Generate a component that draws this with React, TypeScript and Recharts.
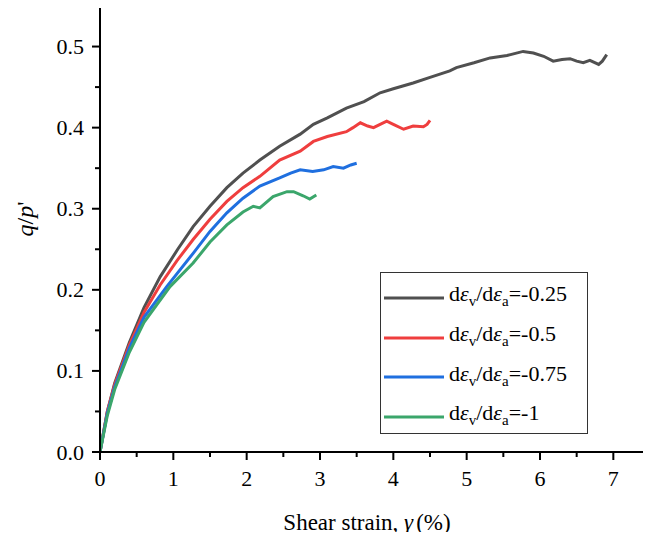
import React from "react";
import { LineChart, Line, XAxis, YAxis, Legend } from "recharts";

// Shear strain (%) and stress ratio q/p' for each test
const strainA = [0, 0.1, 0.2, 0.4, 0.6, 0.82, 1.06, 1.27, 1.5, 1.73, 1.95, 2.18, 2.45, 2.73, 2.91, 3.1, 3.36, 3.6, 3.82, 4.0, 4.27, 4.5, 4.77, 4.86, 5.1, 5.32, 5.55, 5.77, 5.91, 6.05, 6.18, 6.3, 6.41, 6.5, 6.59, 6.68, 6.8, 6.85, 6.91];
const ratioA = [0, 0.05, 0.085, 0.135, 0.178, 0.216, 0.25, 0.278, 0.303, 0.326, 0.344, 0.36, 0.377, 0.392, 0.404, 0.412, 0.424, 0.432, 0.443, 0.448, 0.455, 0.462, 0.47, 0.474, 0.48, 0.486, 0.489, 0.494, 0.492, 0.488, 0.482, 0.484, 0.485, 0.482, 0.48, 0.483, 0.478, 0.482, 0.49];

const strainB = [0, 0.1, 0.2, 0.4, 0.6, 0.82, 1.05, 1.27, 1.5, 1.73, 1.95, 2.18, 2.45, 2.73, 2.91, 3.1, 3.36, 3.45, 3.55, 3.65, 3.73, 3.82, 3.91, 4.0, 4.14, 4.27, 4.41, 4.46, 4.5];
const ratioB = [0, 0.05, 0.083, 0.132, 0.172, 0.206, 0.236, 0.262, 0.287, 0.309, 0.326, 0.34, 0.36, 0.371, 0.383, 0.389, 0.395, 0.4, 0.406, 0.402, 0.4, 0.404, 0.408, 0.404, 0.398, 0.402, 0.401, 0.404, 0.409];

const strainC = [0, 0.1, 0.2, 0.4, 0.6, 0.91, 1.27, 1.5, 1.73, 1.95, 2.18, 2.45, 2.6, 2.73, 2.9, 3.05, 3.18, 3.32, 3.42, 3.5];
const ratioC = [0, 0.048, 0.08, 0.128, 0.166, 0.204, 0.245, 0.272, 0.295, 0.313, 0.328, 0.338, 0.344, 0.348, 0.346, 0.348, 0.352, 0.35, 0.354, 0.356];

const strainD = [0, 0.1, 0.2, 0.4, 0.6, 0.955, 1.27, 1.5, 1.73, 1.95, 2.09, 2.18, 2.36, 2.55, 2.64, 2.77, 2.86, 2.95];
const ratioD = [0, 0.045, 0.077, 0.123, 0.16, 0.204, 0.233, 0.259, 0.28, 0.296, 0.303, 0.301, 0.315, 0.321, 0.321, 0.316, 0.312, 0.317];

const seriesLabels = ["-0.25", "-0.5", "-0.75", "-1"];
const seriesColors = ["#505050", "#ef3e3e", "#1f6fdf", "#3ba66b"];

const xTicks = [0, 0.5, 1, 1.5, 2, 2.5, 3, 3.5, 4, 4.5, 5, 5.5, 6, 6.5, 7, 7.5];
const yTicks = [0, 0.05, 0.1, 0.15, 0.2, 0.25, 0.3, 0.35, 0.4, 0.45, 0.5, 0.55];

const toPoints = (xs: number[], ys: number[]) => xs.map((x, i) => ({ x, y: ys[i] }));
const seriesData = [
  toPoints(strainA, ratioA),
  toPoints(strainB, ratioB),
  toPoints(strainC, ratioC),
  toPoints(strainD, ratioD),
];

const FONT = "Liberation Serif, Times New Roman, Times, DejaVu Serif, serif";

const isMajor = (v: number, step: number) => Math.abs(v / step - Math.round(v / step)) < 1e-6;

const XTick = (props: any) => {
  const { x, y, payload } = props;
  const v = payload.value as number;
  const major = isMajor(v, 1);
  const top = y - 8;
  return (
    <g>
      <line x1={x} x2={x} y1={top} y2={top + (major ? 8 : 5)} stroke="#000" strokeWidth={2} />
      {major && v < 7.5 ? (
        <text x={x} y={top + 34} textAnchor="middle" style={{ fontFamily: FONT }} fontSize={22} fill="#000">
          {String(v)}
        </text>
      ) : null}
    </g>
  );
};

const YTick = (props: any) => {
  const { x, y, payload } = props;
  const v = payload.value as number;
  const major = isMajor(v, 0.1);
  const right = x + 8;
  return (
    <g>
      <line x1={right} x2={right - (major ? 8 : 5)} y1={y} y2={y} stroke="#000" strokeWidth={2} />
      {major ? (
        <text x={right - 16} y={y + 7.5} textAnchor="end" style={{ fontFamily: FONT }} fontSize={22} fill="#000">
          {v.toFixed(1)}
        </text>
      ) : null}
    </g>
  );
};

const LegendBox = () => (
  <div
    style={{
      width: 208,
      height: 162,
      boxSizing: "border-box",
      border: "1.5px solid #333",
      background: "#fff",
      fontFamily: FONT,
      fontSize: 22,
      color: "#000",
      paddingTop: 5,
    }}
  >
    {seriesLabels.map((lab, i) => (
      <div key={lab} style={{ display: "flex", alignItems: "center", height: 39.7, whiteSpace: "nowrap" }}>
        <svg width={62} height={10} style={{ marginLeft: 2, marginRight: 4, flex: "none" }}>
          <line x1={1} x2={61} y1={5} y2={5} stroke={seriesColors[i]} strokeWidth={3} />
        </svg>
        <span style={{ lineHeight: "22px" }}>
          d<i>ε</i>
          <sub style={{ fontSize: 15, verticalAlign: "-5px" }}>v</sub>/d<i>ε</i>
          <sub style={{ fontSize: 15, verticalAlign: "-5px" }}>a</sub>={lab}
        </span>
      </div>
    ))}
  </div>
);

const XLabel = (props: any) => {
  const vb = props.viewBox || {};
  const cx = vb.x + vb.width / 2 - 8;
  return (
    <text x={cx} y={vb.y + 78} textAnchor="middle" style={{ fontFamily: FONT }} fontSize={23} fill="#000">
      Shear strain, <tspan fontStyle="italic">γ</tspan>
      <tspan dx={3}>(%)</tspan>
    </text>
  );
};

const YLabel = () => (
  <text
    x={0}
    y={0}
    transform="translate(33, 219) rotate(-90)"
    textAnchor="middle"
    style={{ fontFamily: FONT }}
    fontSize={24}
    fill="#000"
  >
    <tspan fontStyle="italic">q</tspan>/<tspan fontStyle="italic">p</tspan>'
  </text>
);

export default function App() {
  return (
    <div style={{ margin: -8, width: 651, height: 540, background: "#fff", position: "relative", fontFamily: FONT }}>
      <LineChart width={651} height={540} margin={{ top: 6, right: 1, bottom: 0, left: 0 }} style={{ fontFamily: FONT }}>
        <XAxis
          type="number"
          dataKey="x"
          domain={[0, 7.5]}
          ticks={xTicks}
          interval={0}
          allowDataOverflow
          height={88}
          tickSize={8}
          tickMargin={0}
          tickLine={false}
          axisLine={{ stroke: "#000", strokeWidth: 2 }}
          tick={<XTick />}
          label={<XLabel />}
        />
        <YAxis
          type="number"
          dataKey="y"
          domain={[0, 0.55]}
          ticks={yTicks}
          interval={0}
          allowDataOverflow
          width={100}
          tickSize={8}
          tickMargin={0}
          tickLine={false}
          axisLine={{ stroke: "#000", strokeWidth: 2 }}
          tick={<YTick />}
          label={<YLabel />}
        />
        <Legend
          layout="vertical"
          align="center"
          verticalAlign="middle"
          content={<LegendBox />}
          wrapperStyle={{ left: 380, top: 272, width: 208, height: 162 }}
        />
        {seriesData.map((d, i) => (
          <Line
            key={seriesLabels[i]}
            data={d}
            dataKey="y"
            type="linear"
            stroke={seriesColors[i]}
            strokeWidth={3}
            dot={false}
            activeDot={false}
            isAnimationActive={false}
            name={seriesLabels[i]}
          />
        ))}
      </LineChart>
    </div>
  );
}
